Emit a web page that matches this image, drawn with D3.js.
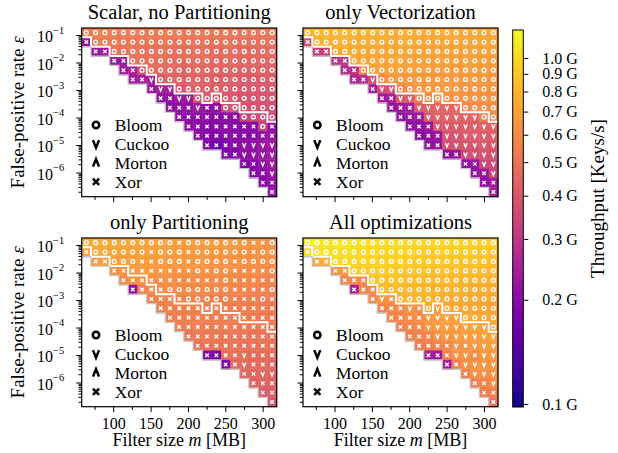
<!DOCTYPE html>
<html>
<head>
<meta charset="utf-8">
<script src="https://cdn.jsdelivr.net/npm/d3@7"></script>
<style>
  body { margin: 0; background: #fff; }
  svg text { font-family: "Liberation Serif", "Times New Roman", serif; fill: #000; }
</style>
</head>
<body>
<svg id="chart" width="618" height="453"></svg>
<script>
// filter size m [MB] at the column centres
const filterSizes = [64, 76.4, 88.9, 101.3, 113.7, 126.2, 138.6, 151.0, 163.4, 175.9, 188.3,
  200.7, 213.2, 225.6, 238.0, 250.5, 262.9, 275.3, 287.7, 300.2, 312.6];
// false-positive rate at the row centres, top to bottom
const fprRows = [0.12, 0.055, 0.025, 0.0115, 0.0053, 0.0024, 0.0011, 5.0e-4, 2.3e-4, 1.04e-4,
  4.8e-5, 2.2e-5, 9.9e-6, 4.5e-6, 2.1e-6, 9.4e-7, 4.3e-7, 1.95e-7];
// first valid column in each row (cells to the left are infeasible)
const rowStart = [0, 0, 1, 3, 4, 5, 7, 8, 9, 10, 11, 12, 13, 15, 17, 18, 19, 20];
// per column: last row that lies above the white Bloom boundary
const bloomBoundary = [0, 1, 1, 2, 2, 3, 3, 4, 5, 5, 6, 6, 6, 7, 6, 7, 7, 8, 8, 8, 9];

const panelTitles = ["Scalar, no Partitioning", "only Vectorization", "only Partitioning", "All optimizations"];
const legendNames = ["Bloom", "Cuckoo", "Morton", "Xor"];
const legendKinds = ["o", "v", "^", "x"];
const cbTicks = [0.1, 0.2, 0.3, 0.4, 0.5, 0.6, 0.7, 0.8, 0.9, 1.0];

// best filter per cell (o Bloom, v Cuckoo, ^ Morton, x Xor), starting at rowStart
const markersScalar = [
  "ooooo ooooo ooooo ooooo o", "xoooo ooooo ooooo ooooo o", "xxooo ooooo ooooo ooooo",
  "xxooo ooooo ooooo ooo", "xxooo ooooo ooooo oo", "xxvoo ooooo ooooo o", "xvvoo ooooo oooo",
  "xxvvo ooooo ooo", "xxxvx xoooo oo", "xxxxx xxooo o", "xxxxx xxxox", "xxxxx xxxx",
  "xxxxv vvv", "xxvvv v", "xxvv", "xxv", "xx", "x"];
const markersVector = [
  "ooooo ooooo ooooo ooooo o", "xoooo ooooo ooooo ooooo o", "xxooo ooooo ooooo ooooo",
  "xxooo ooooo ooooo ooo", "xxooo ooooo ooooo oo", "xxvoo ooooo ooooo o", "xvvoo ooooo oooo",
  "xxvvo ooooo ooo", "xxxvv vvvoo oo", "xxxvv vvvvo o", "xxxvv vvvvv", "xxxvv vvvv",
  "xxvvv vvv", "xxvvv v", "xxvv", "xxv", "xx", "x"];
const markersPartition = [
  "ooooo ooooo xoooo oooxx o", "xoooo ooxoo oxooo oooxo o", "xxooo xxooo xoooo xoooo",
  "xxxxx xxxxo xooxx xxo", "xxxxx xxxxx xoxxx xx", "xxxxo ooooo oxxxx o", "xxxxo oooox xxox",
  "xxxxx xxxxx xxx", "xxxxx xxxxx xx", "xxxxx xxxxx x", "xxxxx xxxxx", "xxxxx xxxx",
  "xxxxv xxx", "xxvxx x", "xxvv", "xxx", "xx", "x"];
const markersAll = [
  "ooooo ooooo ooooo ooooo o", "xoooo ooooo ooooo ooooo o", "xxooo ooooo ooooo ooooo",
  "xxooo ooooo ooooo ooo", "xxxoo ooooo ooooo oo", "xxxoo ooooo ooooo o", "xvxoo ooooo oooo",
  "xxxvx ovooo ooo", "xxxxv vvvoo oo", "xxxvv vvvvv o", "xxxvv vvvvv", "xxxxv xvvv",
  "xxxvv xvv", "xxvvv v", "xvvv", "xxv", "xx", "x"];

// throughput per cell, in 0.01 G keys/s
const tputScalar = [
  [53,54,54,53,53, 53,52,53,52,52, 52,51,52,51,51, 51,50,51,50,50, 50],
  [21,52,52,52,51, 51,51,51,50,50, 50,50,49,49,49, 49,48,49,48,48, 48],
  [22,22,50,50,50, 49,49,49,48,48, 48,48,47,47,47, 47,46,46,46,46],
  [23,23,48,48,48, 47,47,47,46,46, 46,45,45,45,45, 44,44,44],
  [24,24,37,46,46, 46,45,45,45,44, 44,44,43,43,43, 43,42],
  [23,24,25,40,44, 44,43,43,43,42, 42,42,41,41,41, 40],
  [22,24,24,38,42, 42,41,41,41,40, 40,40,39,39],
  [21,21,23,23,37, 39,40,40,39,39, 39,38,38],
  [21,21,21,23,21, 21,36,38,38,38, 37,37],
  [21,20,20,21,20, 20,20,35,36,36, 36],
  [20,20,19,20,20, 19,20,20,34,21],
  [20,19,19,19,20, 20,20,21,22],
  [19,16,18,20,21, 21,22,23],
  [19,19,21,21,22, 23],
  [19,19,21,23],
  [19,20,22],
  [19,21],
  [21]];
const tputVector = [
  [79,80,79,79,78, 78,77,77,76,76, 75,75,75,74,74, 74,73,73,73,72, 72],
  [37,78,78,77,77, 76,76,75,75,74, 74,74,73,73,73, 72,72,72,71,71, 71],
  [32,33,76,75,75, 74,74,73,73,73, 72,72,72,71,71, 71,70,70,70,70],
  [29,30,72,72,72, 71,71,71,70,70, 70,69,69,69,69, 68,68,68],
  [27,28,58,68,69, 69,69,69,68,68, 68,68,67,67,67, 67,66],
  [26,27,37,60,65, 66,66,67,67,67, 66,66,66,66,65, 65],
  [24,37,38,57,62, 64,65,65,65,65, 64,64,64,64],
  [23,24,40,41,55, 58,60,62,63,63, 63,63,62],
  [22,23,24,41,43, 44,44,45,58,60, 61,61],
  [21,22,23,40,42, 43,44,44,45,56, 58],
  [21,21,22,39,40, 41,42,42,43,43],
  [20,21,22,38,39, 40,41,41,42],
  [21,22,37,38,39, 39,40,40],
  [21,22,36,37,38, 38],
  [21,22,35,36],
  [21,22,34],
  [21,23],
  [24]];
const tputPartition = [
  [74,75,74,73,72, 72,71,71,70,69, 69,68,68,67,67, 66,65,65,64,64, 63],
  [70,72,72,71,71, 70,70,69,69,68, 67,67,66,66,65, 65,64,63,63,62, 62],
  [66,68,69,69,68, 68,67,67,66,66, 65,65,64,64,63, 63,62,62,61,60],
  [62,63,65,65,65, 65,64,64,63,63, 62,62,61,61,60, 60,59,59],
  [59,61,62,62,62, 62,61,61,61,60, 60,59,59,58,58, 57,57],
  [21,57,59,60,60, 60,59,59,59,58, 58,57,57,56,56, 55],
  [55,57,57,57,57, 56,56,56,55,55, 54,54,53,53],
  [54,56,56,56,56, 55,55,55,54,54, 54,53,53],
  [53,55,55,55,54, 54,54,53,53,53, 52,52],
  [52,53,54,53,53, 53,52,52,52,51, 51],
  [50,52,52,52,51, 51,51,50,50,50],
  [49,50,50,50,50, 49,49,49,48],
  [20,18,48,48,48, 47,47,47],
  [18,46,47,46,46, 45],
  [44,45,45,44],
  [43,44,43],
  [41,42],
  [38]];
const tputAll = [
  [109,110,109,107,107, 105,105,103,103,101, 100,100,98,98,96, 96,95,94,93,93, 92],
  [100,106,105,104,103, 102,101,100,99,98, 97,96,95,94,93, 93,92,91,90,89, 89],
  [73,75,100,99,98, 97,96,95,94,93, 92,91,91,90,89, 88,87,87,86,85],
  [64,66,93,92,91, 91,90,89,88,87, 86,85,85,84,83, 82,82,81],
  [57,58,60,87,86, 86,85,84,84,83, 82,81,80,80,79, 78,78],
  [24,57,59,83,82, 82,81,80,80,79, 78,78,77,76,76, 75],
  [58,64,62,79,78, 78,77,76,76,75, 74,74,73,73],
  [57,58,59,64,61, 76,68,75,74,73, 73,72,71],
  [57,58,59,61,66, 68,69,70,74,73, 73,72],
  [56,57,58,64,66, 67,68,69,70,70, 71],
  [55,56,57,63,65, 66,67,68,68,69],
  [54,55,56,58,64, 62,66,67,68],
  [24,23,56,62,64, 60,66,66],
  [24,55,62,63,64, 64],
  [55,61,62,62],
  [54,56,60],
  [53,55],
  [50]];

const W = 195, H = 168.7;
const panels = [
  { title: panelTitles[0], markers: markersScalar, tput: tputScalar, left: 81.7, top: 28 },
  { title: panelTitles[1], markers: markersVector, tput: tputVector, left: 303, top: 28 },
  { title: panelTitles[2], markers: markersPartition, tput: tputPartition, left: 81.7, top: 238 },
  { title: panelTitles[3], markers: markersAll, tput: tputAll, left: 303, top: 238 }
];

const svg = d3.select("#chart");

const xScale = d3.scaleLinear().domain([57.8, 318.8]).range([0, W]);
const yScale = d3.scaleLog().domain([0.18, 1.32e-7]).range([0, H]);
const colBand = d3.scaleBand().domain(filterSizes).range([0, W]);
const rowBand = d3.scaleBand().domain(fprRows).range([0, H]);
// log colour norm, limits of the colour bar
const norm = d3.scaleLog().domain([0.098, 1.205]).range([0, 1]).clamp(true);
const colour = v => d3.interpolatePlasma(norm(v));

function drawMarker(sel, kind, s, col, sw) {
  if (kind === "o") {
    sel.append("circle").attr("r", s).attr("fill", "none")
      .attr("stroke", col).attr("stroke-width", sw);
    return;
  }
  let d;
  if (kind === "x") d = `M${-s},${-s}L${s},${s}M${-s},${s}L${s},${-s}`;
  else if (kind === "v") d = `M${-0.8 * s},${-s}L0,${s}L${0.8 * s},${-s}`;
  else d = `M${-0.8 * s},${s}L0,${-s}L${0.8 * s},${s}`;
  sel.append("path").attr("d", d).attr("fill", "none")
    .attr("stroke", col).attr("stroke-width", sw);
}
const cellSize = { o: 1.9, x: 1.75, v: 2.1, "^": 2.1 };
const legendSize = { o: 3.2, x: 3.1, v: 3.8, "^": 3.8 };

const yMajor = [1e-1, 1e-2, 1e-3, 1e-4, 1e-5, 1e-6];
const yMinor = [];
for (let e = 1; e <= 7; e++) {
  for (let k = 2; k <= 9; k++) {
    const v = k * Math.pow(10, -e);
    if (v < 0.18 && v > 1.32e-7) yMinor.push(v);
  }
}

panels.forEach((p, pi) => {
  const g = svg.append("g").attr("transform", `translate(${p.left},${p.top})`);

  const cells = [];
  p.markers.forEach((row, r) => {
    const kinds = row.replace(/ /g, "");
    if (kinds.length !== filterSizes.length - rowStart[r] || p.tput[r].length !== kinds.length) {
      throw new Error(`panel ${pi} row ${r}: ${kinds.length} markers, ${p.tput[r].length} values`);
    }
    kinds.split("").forEach((k, i) => {
      cells.push({ r, c: rowStart[r] + i, kind: k, v: p.tput[r][i] / 100 });
    });
  });

  g.selectAll(".cell")
    .data(cells)
    .join("rect")
    .attr("class", "cell")
    .attr("x", d => colBand(filterSizes[d.c]))
    .attr("y", d => rowBand(fprRows[d.r]))
    .attr("width", colBand.bandwidth() + 0.4)
    .attr("height", rowBand.bandwidth() + 0.4)
    .attr("fill", d => colour(d.v));

  // white step line: boundary of the Bloom region
  const linePts = [];
  bloomBoundary.forEach((b, c) => {
    const y = rowBand(fprRows[b]) + rowBand.bandwidth();
    const x0 = colBand(filterSizes[c]);
    linePts.push([x0, y], [x0 + colBand.bandwidth(), y]);
  });
  g.append("path").attr("d", d3.line()(linePts))
    .attr("fill", "none").attr("stroke", "#fff").attr("stroke-width", 2);

  // grey outline along the feasible staircase
  const edgePts = [];
  rowStart.forEach((s, r) => {
    const x = colBand(filterSizes[s]);
    const y0 = rowBand(fprRows[r]);
    edgePts.push([x, y0], [x, y0 + rowBand.bandwidth()]);
  });
  edgePts.push([W, H]);
  g.append("path").attr("d", d3.line()(edgePts))
    .attr("fill", "none").attr("stroke", "#c6c6c6").attr("stroke-width", 1.3);

  g.selectAll(".mark")
    .data(cells)
    .join("g")
    .attr("class", "mark")
    .attr("transform", d => `translate(${colBand(filterSizes[d.c]) + colBand.bandwidth() / 2},${rowBand(fprRows[d.r]) + rowBand.bandwidth() / 2})`)
    .each(function (d) { drawMarker(d3.select(this), d.kind, cellSize[d.kind], "#fff", 1.35); });

  g.append("rect").attr("width", W).attr("height", H)
    .attr("fill", "none").attr("stroke", "#000").attr("stroke-width", 1.2);

  // y axis
  const yAx = g.append("g")
    .call(d3.axisLeft(yScale).tickValues(yMajor).tickSize(5.5).tickPadding(12).tickFormat(""))
    .attr("font-size", 16);
  g.append("g")
    .call(d3.axisLeft(yScale).tickValues(yMinor).tickSize(3.2).tickFormat(""))
    .call(a => a.select(".domain").remove());
  yAx.select(".domain").remove();
  if (pi % 2 === 0) {
    yAx.selectAll(".tick text").each(function (d) {
      const t = d3.select(this).attr("dy", null).attr("y", 6.5);
      t.append("tspan").text("10");
      t.append("tspan").attr("dy", -8.5).attr("font-size", 10.5)
        .text("\u2212" + Math.round(-Math.log10(d)));
    });
  }

  // x axis
  g.append("g")
    .attr("transform", `translate(0,${H})`)
    .call(d3.axisBottom(xScale).tickValues([100, 150, 200, 250, 300]).tickSize(5.5).tickPadding(5)
      .tickFormat(pi >= 2 ? d3.format("d") : ""))
    .attr("font-size", 16)
    .call(a => a.select(".domain").remove());
  g.append("g")
    .attr("transform", `translate(0,${H})`)
    .call(d3.axisBottom(xScale).tickValues([75, 125, 175, 225, 275]).tickSize(3.2).tickFormat(""))
    .call(a => a.select(".domain").remove());

  // legend
  legendNames.forEach((name, i) => {
    const y = 97 + i * 18.9;
    const m = g.append("g").attr("transform", `translate(14.3,${y})`);
    drawMarker(m, legendKinds[i], legendSize[legendKinds[i]], "#000", 2.5);
    g.append("text").attr("x", 33).attr("y", y + 6).attr("font-size", 17.5).text(name);
  });

  svg.append("text")
    .attr("x", p.left + W / 2).attr("y", p.top - 9)
    .attr("text-anchor", "middle").attr("font-size", 20.5)
    .text(p.title);

  if (pi % 2 === 0) {
    const t = svg.append("text")
      .attr("transform", `translate(24,${p.top + H / 2}) rotate(-90)`)
      .attr("text-anchor", "middle").attr("font-size", 19);
    t.append("tspan").text("False-positive rate ");
    t.append("tspan").attr("font-style", "italic").text("\u03b5");
  }
  if (pi >= 2) {
    const t = svg.append("text")
      .attr("x", p.left + W / 2).attr("y", 446)
      .attr("text-anchor", "middle").attr("font-size", 18);
    t.append("tspan").text("Filter size ");
    t.append("tspan").attr("font-style", "italic").text("m");
    t.append("tspan").text(" [MB]");
  }
});

// colour bar
const cbTop = 30, cbBottom = 407, cbLeft = 512.7, cbWidth = 10.6;
const grad = svg.append("defs").append("linearGradient")
  .attr("id", "plasmaGrad").attr("x1", 0).attr("y1", 1).attr("x2", 0).attr("y2", 0);
d3.range(0, 1.0001, 0.05).forEach(t => {
  grad.append("stop").attr("offset", t).attr("stop-color", d3.interpolatePlasma(t));
});
svg.append("rect")
  .attr("x", cbLeft).attr("y", cbTop).attr("width", cbWidth).attr("height", cbBottom - cbTop)
  .attr("fill", "url(#plasmaGrad)").attr("stroke", "#000").attr("stroke-width", 1);
const cbScale = d3.scaleLog().domain(norm.domain()).range([cbBottom, cbTop]);
svg.append("g")
  .attr("transform", `translate(${cbLeft + cbWidth},0)`)
  .call(d3.axisRight(cbScale).tickValues(cbTicks).tickSize(5).tickPadding(14)
    .tickFormat(d => d.toFixed(1) + " G"))
  .attr("font-size", 16)
  .call(a => a.select(".domain").remove());
svg.append("text")
  .attr("transform", `translate(603.5,${(cbTop + cbBottom) / 2 - 20}) rotate(-90)`)
  .attr("text-anchor", "middle").attr("font-size", 19)
  .text("Throughput [Keys/s]");
</script>
</body>
</html>
